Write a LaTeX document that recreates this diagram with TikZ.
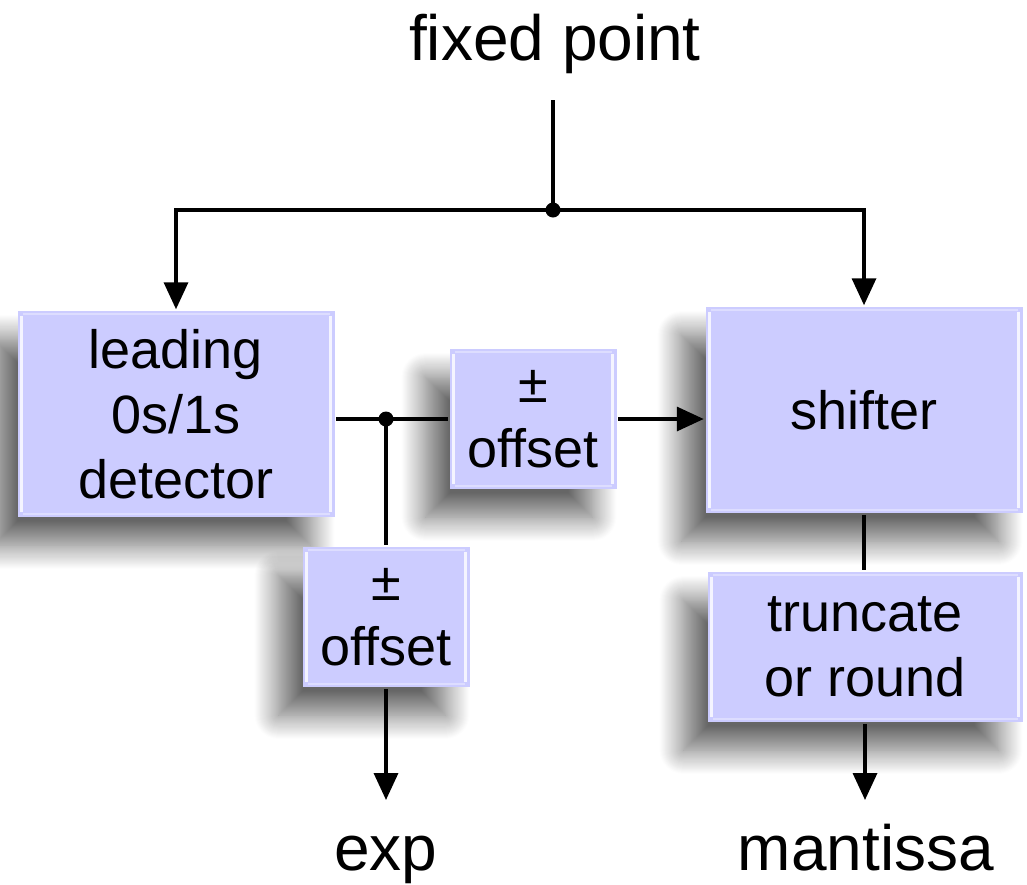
\documentclass[tikz,border=0pt]{standalone}
\usepackage{fontspec}
\setmainfont{Liberation Sans}
\usetikzlibrary{arrows.meta, positioning, calc, shadows.blur}

\definecolor{blockfill}{RGB}{204,204,255}

\begin{document}
\begin{tikzpicture}[
        x=1pt, y=-1pt,
        line width=3.5pt,
        block/.style={rectangle, fill=blockfill, align=center, inner sep=0pt,
            font=\fontsize{54}{65}\selectfont,
            blur shadow={shadow xshift=-24pt, shadow yshift=-28pt, shadow blur radius=24pt,
                shadow blur steps=24, shadow opacity=60},
            path picture={
                % bevelled rim
                \draw[white, opacity=0.8, line width=3pt]
                    ([xshift=4pt,yshift=5pt]path picture bounding box.south west)
                    -- ([xshift=4pt,yshift=-5pt]path picture bounding box.north west)
                    ([xshift=-4pt,yshift=5pt]path picture bounding box.south east)
                    -- ([xshift=-4pt,yshift=-5pt]path picture bounding box.north east);
                \draw[white, opacity=0.35, line width=2pt]
                    ([xshift=5pt,yshift=3pt]path picture bounding box.south west)
                    -- ([xshift=-5pt,yshift=3pt]path picture bounding box.south east)
                    ([xshift=5pt,yshift=-3pt]path picture bounding box.north west)
                    -- ([xshift=-5pt,yshift=-3pt]path picture bounding box.north east);
            }},
        label/.style={font=\fontsize{64}{74}\selectfont, anchor=base},
        junction/.style={circle, fill, inner sep=0pt, minimum size=15pt},
        flow/.style={-{Triangle[length=27pt, width=24pt]}}
    ]
    \useasboundingbox (0,0) rectangle (1027,884);

    % Blocks
    \node[block, minimum width=317pt, minimum height=206pt] (detector) at (176,414) {leading\\0s/1s\\detector};
    \node[block, minimum width=317pt, minimum height=206pt] (shifter) at (864,410) {shifter};
    \node[block, minimum width=167pt, minimum height=140pt] (offA) at (533,419) {±\\offset};
    \node[block, minimum width=167pt, minimum height=140pt] (offB) at (386,617) {±\\offset};
    \node[block, minimum width=315pt, minimum height=150pt] (round) at (865,647) {truncate\\or round};

    % Input and outputs
    \node[label] (fixed) at (555,60) {fixed point};
    \node[label] (exp) at (386,870) {exp};
    \node[label] (mant) at (866,870) {mantissa};

    % Fan-out of the input
    \coordinate (in) at (553,100);
    \coordinate (split) at (553,210);
    \draw (in) -- (split);
    \draw[flow] (split) -| (detector.north);
    \draw[flow] (split) -| (shifter.north);
    \node[junction] at (split) {};

    % Shift amount
    \coordinate (tap) at (offB.north |- offA.west);
    \draw (detector.east |- offA.west) -- (offA.west);
    \draw (tap) -- (offB.north);
    \node[junction] at (tap) {};
    \draw[flow] (offA.east) -- (offA.east -| shifter.west);

    % Mantissa path
    \draw (shifter.south) -- (shifter.south |- round.north);

    % Outputs
    \coordinate (expout) at (386,800);
    \draw[flow] (offB.south) -- (expout);
    \draw[flow] (round.south) -- (round.south |- expout);

\end{tikzpicture}
\end{document}
